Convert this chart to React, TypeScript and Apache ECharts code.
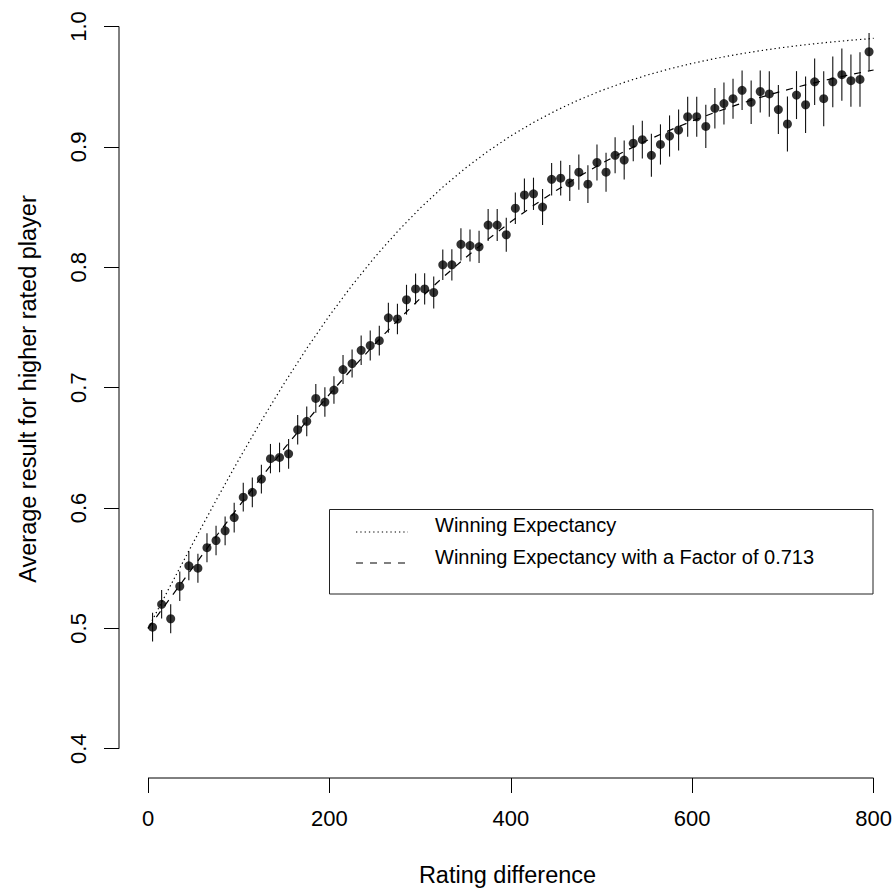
import React, { useEffect, useRef } from "react";
import * as echarts from "echarts";

// ---- Data ----
const ratingDiff = [
  5, 15, 25, 35, 45, 55, 65, 75, 85, 95,
  105, 115, 125, 135, 145, 155, 165, 175, 185, 195,
  205, 215, 225, 235, 245, 255, 265, 275, 285, 295,
  305, 315, 325, 335, 345, 355, 365, 375, 385, 395,
  405, 415, 425, 435, 445, 455, 465, 475, 485, 495,
  505, 515, 525, 535, 545, 555, 565, 575, 585, 595,
  605, 615, 625, 635, 645, 655, 665, 675, 685, 695,
  705, 715, 725, 735, 745, 755, 765, 775, 785, 795,
];

const avgResult = [
  0.501, 0.520, 0.508, 0.535, 0.552, 0.550, 0.567, 0.573, 0.581, 0.592,
  0.609, 0.613, 0.624, 0.641, 0.642, 0.645, 0.665, 0.672, 0.691, 0.688,
  0.698, 0.715, 0.720, 0.731, 0.735, 0.739, 0.758, 0.757, 0.773, 0.782,
  0.782, 0.779, 0.802, 0.802, 0.819, 0.818, 0.817, 0.835, 0.835, 0.827,
  0.849, 0.860, 0.861, 0.850, 0.873, 0.874, 0.870, 0.879, 0.869, 0.887,
  0.879, 0.893, 0.889, 0.903, 0.906, 0.893, 0.902, 0.909, 0.914, 0.925,
  0.925, 0.917, 0.932, 0.936, 0.940, 0.947, 0.937, 0.946, 0.944, 0.931,
  0.919, 0.943, 0.935, 0.954, 0.940, 0.954, 0.960, 0.955, 0.956, 0.979,
];

const errHalf = [
  0.0120, 0.0119, 0.0120, 0.0122, 0.0120, 0.0120, 0.0120, 0.0122, 0.0119, 0.0123,
  0.0120, 0.0123, 0.0120, 0.0122, 0.0123, 0.0124, 0.0123, 0.0123, 0.0119, 0.0122,
  0.0115, 0.0120, 0.0117, 0.0123, 0.0124, 0.0124, 0.0124, 0.0127, 0.0124, 0.0127,
  0.0130, 0.0133, 0.0127, 0.0130, 0.0133, 0.0133, 0.0134, 0.0133, 0.0133, 0.0141,
  0.0131, 0.0137, 0.0134, 0.0149, 0.0135, 0.0145, 0.0149, 0.0146, 0.0157, 0.0149,
  0.0162, 0.0149, 0.0162, 0.0149, 0.0157, 0.0178, 0.0167, 0.0171, 0.0170, 0.0166,
  0.0166, 0.0180, 0.0168, 0.0174, 0.0166, 0.0164, 0.0181, 0.0174, 0.0189, 0.0203,
  0.0228, 0.0199, 0.0235, 0.0193, 0.0228, 0.0211, 0.0217, 0.0217, 0.0226, 0.0156,
];

const curveX = [
  0, 25, 50, 75, 100, 125, 150, 175, 200, 225, 250, 275, 300, 325, 350, 375, 400,
  425, 450, 475, 500, 525, 550, 575, 600, 625, 650, 675, 700, 725, 750, 775, 800,
];

const winningExpectancy = [
  0.5, 0.53592, 0.57146, 0.60629, 0.64007, 0.67252, 0.70338, 0.73251, 0.75975,
  0.78503, 0.80832, 0.82964, 0.84902, 0.86656, 0.88234, 0.89648, 0.90909,
  0.92031, 0.93024, 0.93902, 0.94676, 0.95356, 0.95954, 0.96477, 0.96935,
  0.97334, 0.97684, 0.97988, 0.98253, 0.98484, 0.98684, 0.98858, 0.9901,
];

const winningExpectancyFactor = [
  0.5, 0.52563, 0.55113, 0.57635, 0.60119, 0.62552, 0.64922, 0.67222, 0.69442,
  0.71574, 0.73615, 0.75558, 0.77404, 0.7915, 0.80792, 0.82334, 0.83777,
  0.85124, 0.86376, 0.8754, 0.88616, 0.89612, 0.90528, 0.91373, 0.92148,
  0.92858, 0.9351, 0.94105, 0.9465, 0.95146, 0.95598, 0.9601, 0.96385,
];

const xTicks = [0, 200, 400, 600, 800];
const yTicks = [0.4, 0.5, 0.6, 0.7, 0.8, 0.9, 1.0];
const legendLabels = [
  "Winning Expectancy",
  "Winning Expectancy with a Factor of 0.713",
];
const xTitle = "Rating difference";
const yTitle = "Average result for higher rated player";

const X_MIN = -32;
const X_MAX = 824.7;
const Y_MIN = 0.3757;
const Y_MAX = 1.022;

const FONT = "'Liberation Sans', Arial, Helvetica, sans-serif";

export default function App() {
  const ref = useRef<HTMLDivElement>(null);

  useEffect(() => {
    if (!ref.current) return;
    const chart = echarts.init(ref.current, null, { renderer: "svg" });

    const errData = ratingDiff.map((x, i) => [
      x,
      avgResult[i] - errHalf[i],
      avgResult[i] + errHalf[i],
    ]);

    const option: any = {
      animation: false,
      backgroundColor: "#fff",
      textStyle: { fontFamily: FONT },
      grid: { left: 119, top: 0, right: 0, height: 780, containLabel: false },
      xAxis: {
        type: "value",
        min: X_MIN,
        max: X_MAX,
        axisLine: { show: false, onZero: false },
        splitLine: { show: false },
        axisTick: {
          show: true,
          inside: false,
          customValues: xTicks,
          length: 15,
          lineStyle: { color: "#000", width: 1 },
        },
        axisLabel: {
          show: true,
          customValues: xTicks,
          margin: 29,
          color: "#000",
          fontSize: 22,
          fontFamily: FONT,
          formatter: (v: number) => String(v),
        },
        name: xTitle,
        nameLocation: "middle",
        nameGap: 85,
        nameTextStyle: { color: "#000", fontSize: 23.5, fontFamily: FONT },
      },
      yAxis: {
        type: "value",
        min: Y_MIN,
        max: Y_MAX,
        axisLine: { show: false, onZero: false },
        splitLine: { show: false },
        axisTick: {
          show: true,
          inside: false,
          customValues: yTicks,
          length: 15,
          lineStyle: { color: "#000", width: 1 },
        },
        axisLabel: {
          show: true,
          customValues: yTicks,
          rotate: 90,
          margin: 30,
          color: "#000",
          fontSize: 22,
          fontFamily: FONT,
          formatter: (v: number) => v.toFixed(1),
        },
        name: yTitle,
        nameLocation: "middle",
        nameRotate: 90,
        nameGap: 79,
        nameTextStyle: { color: "#000", fontSize: 23.5, fontFamily: FONT },
      },
      series: [
        {
          name: legendLabels[0],
          type: "line",
          data: curveX.map((x, i) => [x, winningExpectancy[i]]),
          symbol: "none",
          lineStyle: { color: "#000", width: 1.2, type: [1.3, 3] },
          silent: true,
        },
        {
          name: legendLabels[1],
          type: "line",
          data: curveX.map((x, i) => [x, winningExpectancyFactor[i]]),
          symbol: "none",
          lineStyle: { color: "#000", width: 1.2, type: [7, 7] },
          silent: true,
        },
        {
          type: "custom",
          data: errData,
          encode: { x: 0, y: [1, 2] },
          silent: true,
          renderItem: (_params: any, api: any) => {
            const x = api.value(0);
            const p1 = api.coord([x, api.value(1)]);
            const p2 = api.coord([x, api.value(2)]);
            return {
              type: "line",
              shape: { x1: p1[0], y1: p1[1], x2: p2[0], y2: p2[1] },
              style: { stroke: "#111", lineWidth: 1.1 },
            };
          },
        },
        {
          type: "scatter",
          data: ratingDiff.map((x, i) => [x, avgResult[i]]),
          symbol: "circle",
          symbolSize: 9,
          itemStyle: { color: "#000" },
          silent: true,
        },
        // x axis line (first to last tick, along the bottom of the plot region)
        {
          type: "line",
          data: [
            [xTicks[0], Y_MIN],
            [xTicks[xTicks.length - 1], Y_MIN],
          ],
          symbol: "none",
          clip: false,
          lineStyle: { color: "#000", width: 1 },
          silent: true,
        },
        // y axis line
        {
          type: "line",
          data: [
            [X_MIN, yTicks[0]],
            [X_MIN, yTicks[yTicks.length - 1]],
          ],
          symbol: "none",
          clip: false,
          lineStyle: { color: "#000", width: 1 },
          silent: true,
        },
      ],
      graphic: [
        {
          type: "rect",
          shape: { x: 329.5, y: 509.5, width: 543.5, height: 84.5 },
          style: { fill: "none", stroke: "#222", lineWidth: 1 },
          silent: true,
        },
        {
          type: "line",
          shape: { x1: 356, y1: 532, x2: 408, y2: 532 },
          style: { stroke: "#000", lineWidth: 1.2, lineDash: [1.3, 3] },
          silent: true,
        },
        {
          type: "line",
          shape: { x1: 356, y1: 563, x2: 408, y2: 563 },
          style: { stroke: "#000", lineWidth: 1.2, lineDash: [7, 7] },
          silent: true,
        },
        {
          type: "text",
          x: 435,
          y: 525,
          style: {
            text: legendLabels[0],
            fill: "#000",
            fontSize: 20,
            fontFamily: FONT,
            verticalAlign: "middle",
            align: "left",
          },
          silent: true,
        },
        {
          type: "text",
          x: 435,
          y: 557,
          style: {
            text: legendLabels[1],
            fill: "#000",
            fontSize: 20,
            fontFamily: FONT,
            verticalAlign: "middle",
            align: "left",
          },
          silent: true,
        },
      ],
    };

    chart.setOption(option);
    return () => chart.dispose();
  }, []);

  return (
    <div
      ref={ref}
      style={{
        position: "fixed",
        left: 0,
        top: 0,
        width: 896,
        height: 892,
        background: "#fff",
      }}
    />
  );
}
